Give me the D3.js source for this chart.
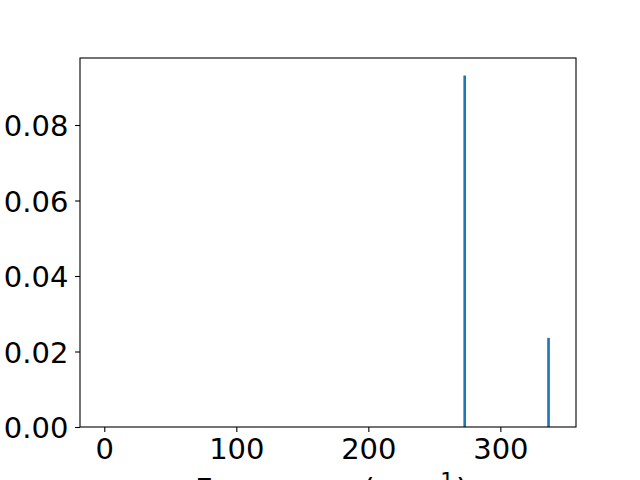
<!DOCTYPE html>
<html>
<head>
<meta charset="utf-8">
<script src="https://cdn.jsdelivr.net/npm/d3@7"></script>
<style>
  body { margin: 0; background: #fff; }
  text { font-family: "DejaVu Sans", sans-serif; }
</style>
</head>
<body>
<script>
// peaks
var frequencies = [273, 336.5];
var intensities = [0.0931, 0.0236];
var barWidth = 2;
var xTicks = [0, 100, 200, 300];
var yTicks = [0, 0.02, 0.04, 0.06, 0.08];

var w = 640;
var h = 480;
var margin = { top: 58, left: 80, bottom: 53, right: 64 };
var width = w - margin.left - margin.right;
var height = h - margin.top - margin.bottom;
var fontSize = 29;
var labelSize = 30.6;

var svg = d3.select("body")
  .append("svg")
  .attr("width", w)
  .attr("height", h);

var g = svg.append("g")
  .attr("transform", "translate(" + margin.left + ", " + margin.top + ")");

var x = d3.scaleLinear()
  .domain([-18.4, 357.3])
  .range([0, width]);

var y = d3.scaleLinear()
  .domain([0, 0.09775])
  .range([height, 0]);

g.selectAll(".bar")
  .data(frequencies)
  .enter()
  .append("rect")
  .classed("bar", true)
  .attr("x", function(d) { return x(d - barWidth / 2); })
  .attr("width", function() { return x(barWidth) - x(0); })
  .attr("y", function(d, i) { return y(intensities[i]); })
  .attr("height", function(d, i) { return y(0) - y(intensities[i]); })
  .attr("fill", "#1f77b4");

// frame
g.append("rect")
  .attr("width", width)
  .attr("height", height)
  .attr("fill", "none")
  .attr("stroke", "#000")
  .attr("stroke-width", 1.1);

var xAxis = g.append("g")
  .attr("transform", "translate(0," + height + ")")
  .call(d3.axisBottom(x).tickValues(xTicks).tickSize(4.9).tickPadding(4.9).tickFormat(d3.format("d")));

var yAxis = g.append("g")
  .call(d3.axisLeft(y).tickValues(yTicks).tickSize(4.9).tickPadding(6.7).tickFormat(d3.format(".2f")));

[xAxis, yAxis].forEach(function(a) {
  a.select(".domain").remove();
  a.selectAll(".tick line").attr("stroke", "#000").attr("stroke-width", 1.1);
  a.selectAll(".tick text")
    .attr("font-family", "DejaVu Sans")
    .attr("font-size", fontSize)
    .attr("fill", "#000");
});
xAxis.selectAll(".tick text").attr("dy", null).attr("y", 32.3);
yAxis.selectAll(".tick text").attr("dy", null).attr("y", 10.5);

var label = svg.append("text")
  .attr("x", 195)
  .attr("y", 500)
  .attr("text-anchor", "start")
  .attr("font-size", labelSize)
  .attr("fill", "#000");
label.append("tspan").text("Frequency (cm");
label.append("tspan").attr("dx", 1).attr("dy", -12).attr("font-size", 21.4).text("\u22121");
label.append("tspan").attr("dx", 2).attr("dy", 12).text(")");
</script>
</body>
</html>
